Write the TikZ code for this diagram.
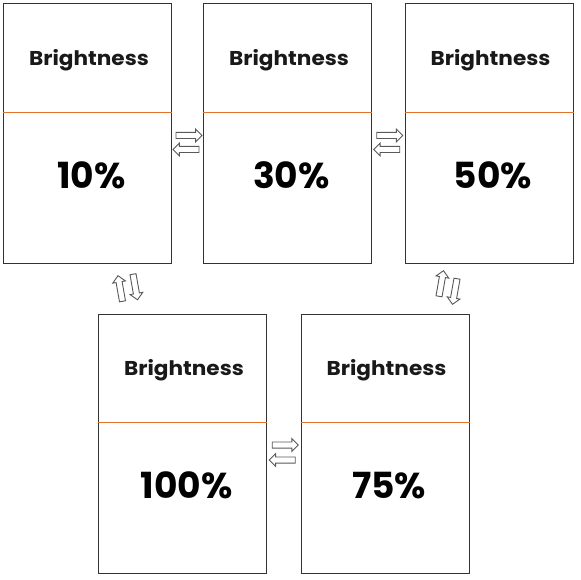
\documentclass[tikz,border=0pt]{standalone}
\usepackage{fontspec}
\setmainfont{Poppins}
\newfontfamily\widefont{Poppins}[FakeStretch=1.08]
\usetikzlibrary{shapes.arrows,calc}
\definecolor{divider}{RGB}{225,115,40}
\begin{document}
\begin{tikzpicture}[
    x=1pt, y=-1pt,
    screen/.style={
        rectangle,
        draw=black!80,
        line width=1pt,
        minimum width=168pt,
        minimum height=259pt,
        inner sep=0pt
    },
    title/.style={font=\widefont\fontsize{20}{20}\selectfont\bfseries, text=black!90},
    value/.style={font=\fontsize{36}{36}\selectfont\bfseries, text=black},
    swap/.style={
        single arrow,
        draw=black!65,
        line width=0.9pt,
        fill=white,
        inner sep=2.6pt,
        single arrow head extend=3.4pt,
        minimum height=26pt,
        rotate=#1
    }
]
\useasboundingbox (0,0) rectangle (580,580);

\node[screen] (b10) at (87.5,133.5) {};
\node[screen] (b30) at (287.5,133.5) {};
\node[screen] (b50) at (489,133.5) {};
\node[screen] (b100) at (182.5,443.5) {};
\node[screen] (b75) at (385,443.5) {};

% divider and labels of each screen
\foreach \b/\v in {b10/10, b30/30, b50/50, b100/100, b75/75} {
    \draw[divider, line width=0.8pt] ([yshift=-109pt]\b.north west) -- ([yshift=-109pt]\b.north east);
    \node[title] (\b-title) at ([xshift=1.5pt,yshift=-57pt]\b.north) {Brightness};
    \node[value] (\b-value) at ([xshift=4pt,yshift=-172pt]\b.north) {\v\%};
}

% swap arrows between the screens
\node[swap=0] (s1r) at ($(b10.east)!0.5!(b30.west)+(0,2)$) {};
\node[swap=180] (s1l) at ($(b10.east)!0.5!(b30.west)+(0,16)$) {};
\node[swap=0] (s2r) at ($(b30.east)!0.5!(b50.west)+(0,2)$) {};
\node[swap=180] (s2l) at ($(b30.east)!0.5!(b50.west)+(0,16)$) {};
\node[swap=0] (s3r) at ($(b100.east)!0.5!(b75.west)+(0,1.5)$) {};
\node[swap=180] (s3l) at ($(b100.east)!0.5!(b75.west)+(0,16.5)$) {};

\node[swap=100] (s4u) at (120.5,290) {};
\node[swap=-80] (s4d) at (135,285.5) {};
\node[swap=80] (s5u) at (441,285) {};
\node[swap=260] (s5d) at (455,290) {};

\end{tikzpicture}
\end{document}
